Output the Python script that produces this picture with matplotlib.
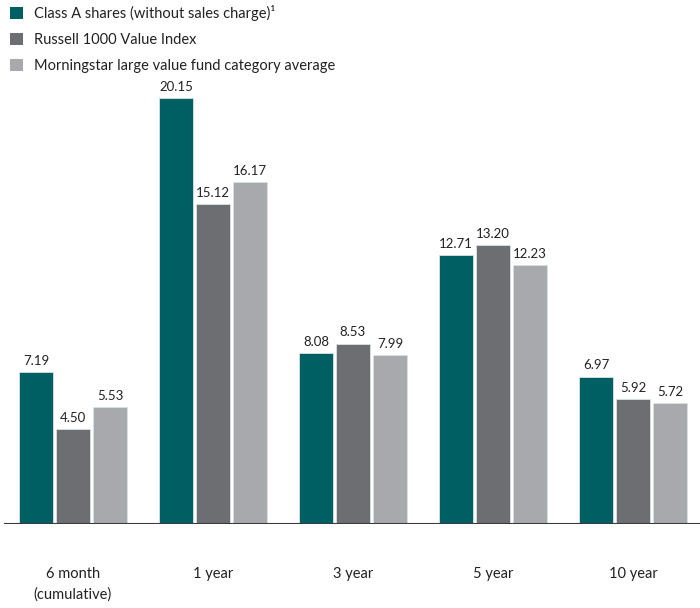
import numpy as np
import matplotlib
matplotlib.use('Agg')
import matplotlib.pyplot as plt
from matplotlib.patches import Patch

plt.rcParams['font.family'] = ['Lato', 'DejaVu Sans']

periods = ['6 month\n(cumulative)', '1 year', '3 year', '5 year', '10 year']
series_names = [
    'Class A shares (without sales charge)\u00b9',
    'Russell 1000 Value Index',
    'Morningstar large value fund category average',
]
class_a = [7.19, 20.15, 8.08, 12.71, 6.97]
russell = [4.50, 15.12, 8.53, 13.20, 5.92]
morningstar = [5.53, 16.17, 7.99, 12.23, 5.72]
colors = ['#005F63', '#6D6E71', '#A7A9AC']

fig = plt.figure(figsize=(7, 6.08), dpi=100)
ax = fig.add_axes([4 / 700, 84 / 608, 696 / 700, 524 / 608])

x = np.arange(len(periods))
width = 34 / 140
offset = 37 / 140
for i, (vals, col) in enumerate(zip([class_a, russell, morningstar], colors)):
    pos = x + (i - 1) * offset
    ax.bar(pos, vals, width=width, color=col, edgecolor='#d9e3e3', linewidth=0.6)
    for p, v in zip(pos, vals):
        ax.text(p, v + 0.25, f'{v:.2f}', ha='center', va='bottom',
                fontsize=9.5, color='#222222')

ax.set_xlim((4 - 73) / 140, (700 - 73) / 140)
ax.set_ylim(0, 524 / 21.14)
ax.axhline(0, color='#3a3a3a', linewidth=1.5)
for sp in ax.spines.values():
    sp.set_visible(False)
ax.set_yticks([])
ax.set_xticks([])

for xi, lab in zip(x, periods):
    ax.text(xi, -2.05, lab, ha='center', va='top', fontsize=10.5,
            color='#222222', linespacing=1.55)

handles = [Patch(facecolor=c, edgecolor='none') for c in colors]
fig.legend(handles, series_names, loc='upper left', bbox_to_anchor=(-0.005, 1.013),
           frameon=False, fontsize=10.5, handlelength=0.9, handleheight=0.9,
           handletextpad=0.8, labelspacing=0.8, labelcolor='#222222')

fig.savefig('out.png', dpi=100)
